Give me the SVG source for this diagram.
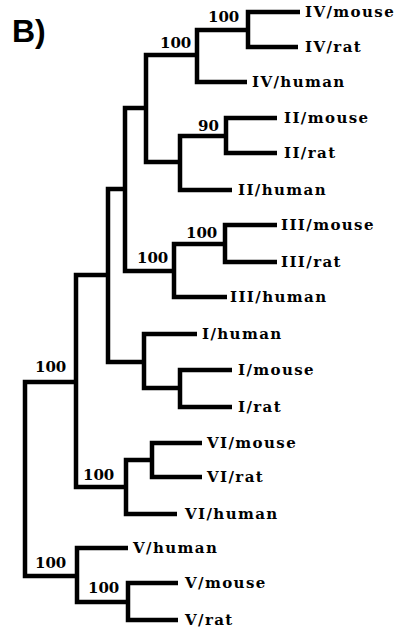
<svg xmlns="http://www.w3.org/2000/svg" width="396" height="630" viewBox="0 0 396 630">
<style>
.br{fill:none;stroke:#000;stroke-width:4.5;stroke-linejoin:miter;stroke-linecap:butt}
.lf{font-family:"DejaVu Serif","Liberation Serif",serif;font-weight:bold;font-size:15px;letter-spacing:1.4px;fill:#000}
.bs{font-family:"DejaVu Serif","Liberation Serif",serif;font-weight:bold;font-size:15px;fill:#000}
.ttl{font-family:"Liberation Sans",Arial,sans-serif;font-weight:bold;font-size:32px;fill:#000}
</style>
<rect width="396" height="630" fill="#fff"/>
<text class="ttl" x="12" y="42">B)</text>
<g id="connectors">
<path class="br" d="M76 382H25V576H77"/>
<path class="br" d="M108 275H76V487H126"/>
<path class="br" d="M125 189H108V362H144"/>
<path class="br" d="M146 108H125V271H174"/>
<path class="br" d="M197 55H146V162H180"/>
<path class="br" d="M248 30H197V82H247"/>
<path class="br" d="M300 12H248V47H298"/>
<path class="br" d="M226 136H180V190H232"/>
<path class="br" d="M277 118H226V153H277"/>
<path class="br" d="M225 244H174V297H227"/>
<path class="br" d="M277 225H225V262H277"/>
<path class="br" d="M197 334H144V388H180"/>
<path class="br" d="M232 370H180V407H232"/>
<path class="br" d="M152 460H126V514H177"/>
<path class="br" d="M202 443H152V477H202"/>
<path class="br" d="M128 548H77V602H128"/>
<path class="br" d="M178 583H128V620H178"/>
</g>
<g id="bootstrap">
<text class="bs" x="208" y="22">100</text>
<text class="bs" x="160" y="48">100</text>
<text class="bs" x="198" y="131">90</text>
<text class="bs" x="186" y="238">100</text>
<text class="bs" x="137" y="263">100</text>
<text class="bs" x="35" y="372">100</text>
<text class="bs" x="83" y="480">100</text>
<text class="bs" x="35" y="568">100</text>
<text class="bs" x="88" y="593">100</text>
</g>
<g id="IV_mouse"><text class="lf" x="305" y="17">IV/mouse</text></g>
<g id="IV_rat"><text class="lf" x="305" y="52">IV/rat</text></g>
<g id="IV_human"><text class="lf" x="252" y="87">IV/human</text></g>
<g id="II_mouse"><text class="lf" x="284" y="123">II/mouse</text></g>
<g id="II_rat"><text class="lf" x="284" y="158">II/rat</text></g>
<g id="II_human"><text class="lf" x="238" y="195">II/human</text></g>
<g id="III_mouse"><text class="lf" x="281" y="230">III/mouse</text></g>
<g id="III_rat"><text class="lf" x="281" y="267">III/rat</text></g>
<g id="III_human"><text class="lf" x="230" y="302">III/human</text></g>
<g id="I_human"><text class="lf" x="202" y="339">I/human</text></g>
<g id="I_mouse"><text class="lf" x="238" y="375">I/mouse</text></g>
<g id="I_rat"><text class="lf" x="238" y="412">I/rat</text></g>
<g id="VI_mouse"><text class="lf" x="207" y="448">VI/mouse</text></g>
<g id="VI_rat"><text class="lf" x="207" y="482">VI/rat</text></g>
<g id="VI_human"><text class="lf" x="185" y="519">VI/human</text></g>
<g id="V_human"><text class="lf" x="133" y="553">V/human</text></g>
<g id="V_mouse"><text class="lf" x="185" y="588">V/mouse</text></g>
<g id="V_rat"><text class="lf" x="185" y="625">V/rat</text></g>
</svg>
